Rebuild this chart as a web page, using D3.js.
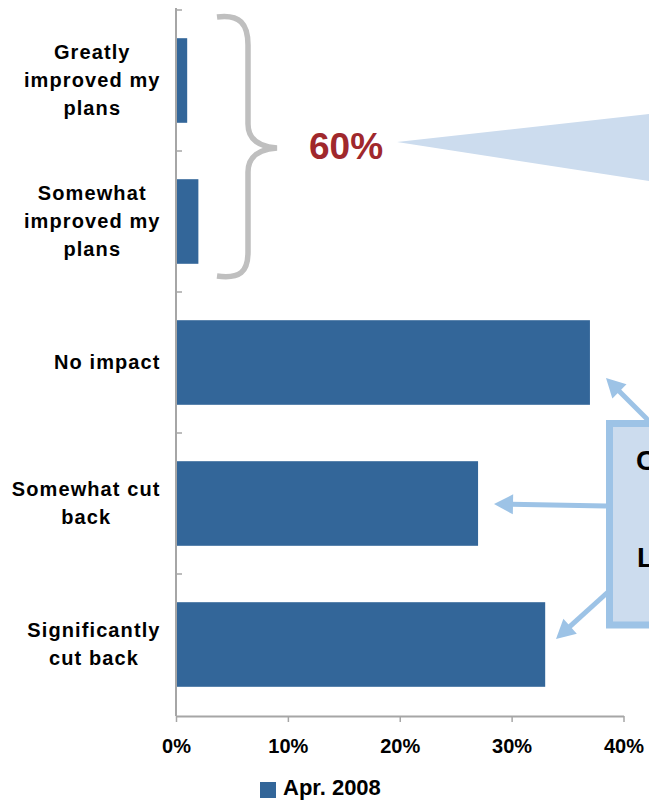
<!DOCTYPE html>
<html>
<head>
<meta charset="utf-8">
<script src="https://cdn.jsdelivr.net/npm/d3@7"></script>
<style>
  html, body { margin: 0; padding: 0; background: #fff; }
  svg { display: block; }
  text { font-family: "Liberation Sans", Arial, sans-serif; font-weight: bold; }
</style>
</head>
<body>
<script>
// Survey responses: how the economy affected respondents' plans
const categories = [
  "Greatly improved my plans",
  "Somewhat improved my plans",
  "No impact",
  "Somewhat cut back",
  "Significantly cut back"
];
const labelLines = [
  ["Greatly", "improved my", "plans"],
  ["Somewhat", "improved my", "plans"],
  ["No impact"],
  ["Somewhat cut", "back"],
  ["Significantly", "cut back"]
];
const values = [1, 2, 37, 27, 33];
const seriesName = "Apr. 2008";
const xTicks = [0, 10, 20, 30, 40];
const calloutText = "60%";
const boxLines = ["C", "L"];

const W = 649, H = 801;
const barColor = "#336699";
const axisColor = "#a6a6a6";
const lightBlue = "#9dc3e6";
const paleBlue = "#ccdcee";

const svg = d3.select("body").append("svg")
  .attr("width", W).attr("height", H);

const x = d3.scaleLinear().domain([0, 40]).range([176, 623.5]);
const y = d3.scaleBand().domain(categories).range([10, 715])
  .paddingInner(0.4).paddingOuter(0.2);

// Bars
svg.append("g").selectAll("rect").data(categories).join("rect")
  .attr("x", x(0))
  .attr("y", d => y(d))
  .attr("width", (d, i) => x(values[i]) - x(0))
  .attr("height", y.bandwidth())
  .attr("fill", barColor);

// X axis
const xAxis = svg.append("g")
  .attr("transform", "translate(0,716)")
  .call(d3.axisBottom(x).tickValues(xTicks).tickFormat(d => d + "%").tickSize(6).tickSizeOuter(0).tickPadding(17));
xAxis.select(".domain").attr("stroke", axisColor).attr("stroke-width", 2);
xAxis.selectAll(".tick line").attr("stroke", axisColor).attr("stroke-width", 1.5);
xAxis.selectAll(".tick text")
  .attr("fill", "#000")
  .style("font-size", "20px")
  .style("font-family", "'Liberation Sans', Arial, sans-serif")
  .style("font-weight", "bold");

// Y axis: vertical line plus ticks at the category boundaries
const step = y.step();
const yAxisG = svg.append("g");
yAxisG.append("line")
  .attr("x1", x(0)).attr("x2", x(0))
  .attr("y1", y.range()[0] - 2).attr("y2", 716)
  .attr("stroke", axisColor).attr("stroke-width", 2);
yAxisG.selectAll("line.tk").data(d3.range(categories.length)).join("line")
  .attr("class", "tk")
  .attr("x1", x(0)).attr("x2", x(0) + 6)
  .attr("y1", i => y.range()[0] + i * step)
  .attr("y2", i => y.range()[0] + i * step)
  .attr("stroke", axisColor).attr("stroke-width", 1.5);

// Category labels: lines centred on each other, block right-aligned
const labelRight = 160;
const lineGap = 28;
const spacing = 1.1;
labelLines.forEach((lines, i) => {
  const cy = y(categories[i]) + y.bandwidth() / 2;
  const t = svg.append("text")
    .attr("text-anchor", "middle")
    .style("font-size", "20px")
    .style("letter-spacing", spacing + "px")
    .attr("fill", "#000");
  const spans = lines.map((ln, j) => t.append("tspan")
    .attr("y", cy + 6.5 + (j - (lines.length - 1) / 2) * lineGap)
    .text(ln));
  const widths = spans.map(s => s.node().getComputedTextLength() - spacing);
  const maxW = d3.max(widths);
  spans.forEach(s => s.attr("x", labelRight - maxW / 2));
});

// Legend
svg.append("rect").attr("x", 260).attr("y", 782).attr("width", 16).attr("height", 16).attr("fill", barColor);
svg.append("text").attr("x", 283).attr("y", 795).style("font-size", "22px").attr("fill", "#000").text(seriesName);

// Brace grouping the "improved" rows
svg.append("path")
  .attr("d", "M217,17 C240,14 248,24 248,45 L248,124 C248,140 260,147 277,148 C260,149 248,156 248,172 L248,252 C248,272 240,279 217,276")
  .attr("fill", "none").attr("stroke", "#bfbfbf").attr("stroke-width", 5.5);

svg.append("text")
  .attr("x", 309).attr("y", 159)
  .style("font-size", "37px").attr("fill", "#a0282c")
  .text(calloutText);

// Wedge pointing at the callout
svg.append("polygon")
  .attr("points", "397,142 649,114 649,181 ")
  .attr("fill", paleBlue);

// Note box
svg.append("rect")
  .attr("x", 609.5).attr("y", 423.5).attr("width", 80).attr("height", 201.5)
  .attr("fill", paleBlue).attr("stroke", lightBlue).attr("stroke-width", 7);
svg.append("text").attr("x", 636).attr("y", 470).style("font-size", "28px").attr("fill", "#000").text(boxLines[0]);
svg.append("text").attr("x", 637).attr("y", 567).style("font-size", "28px").attr("fill", "#000").text(boxLines[1]);

// Arrows from the note box to the cut-back / no-impact bars
function arrow(x1, y1, x2, y2) {
  const dx = x2 - x1, dy = y2 - y1, len = Math.hypot(dx, dy);
  const ux = dx / len, uy = dy / len;
  const headL = 19, headW = 10;
  const bx = x2 - ux * headL, by = y2 - uy * headL;
  svg.append("line")
    .attr("x1", x1).attr("y1", y1).attr("x2", bx + ux * 2).attr("y2", by + uy * 2)
    .attr("stroke", lightBlue).attr("stroke-width", 5);
  svg.append("polygon")
    .attr("points", [[x2, y2], [bx - uy * headW, by + ux * headW], [bx + uy * headW, by - ux * headW]].map(p => p.join(",")).join(" "))
    .attr("fill", lightBlue);
}
arrow(649, 421, 606, 378);
arrow(606, 506, 494, 504);
arrow(608, 592, 556, 639);
</script>
</body>
</html>
